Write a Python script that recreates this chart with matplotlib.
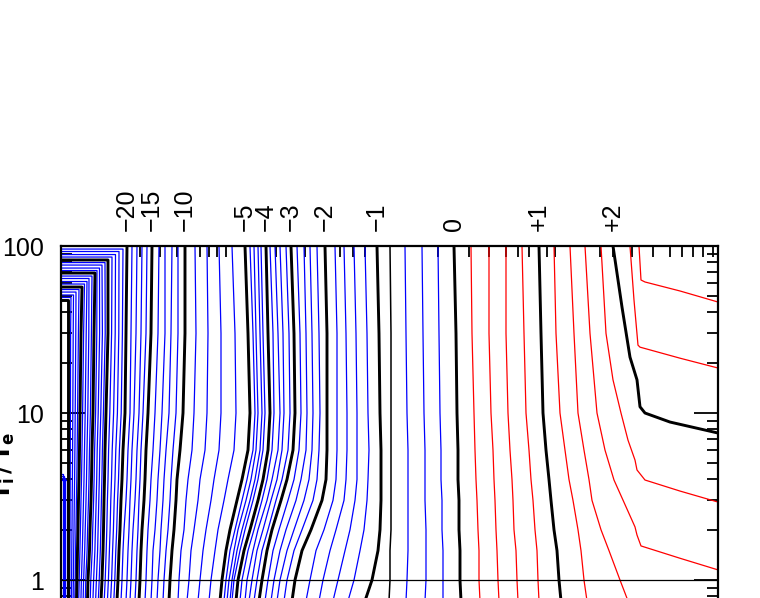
import matplotlib
matplotlib.use("Agg")
import matplotlib.pyplot as plt
from matplotlib.ticker import FixedLocator, FixedFormatter, NullFormatter, LogLocator

# ---------------- data (x in arbitrary units, y = T_i/T_e) ----------------
# rows of T_i/T_e at which the x-position of each contour was read
Y_ROWS = [100, 30, 10, 6, 4, 3, 2, 1.5, 1, 0.75]

# contours running from top to bottom, levels -20 ... -6 (step 1)
LEV_A = [-20, -19, -18, -17, -16, -15, -14, -13, -12, -11, -10, -9, -8, -7, -6]
X_A = [
    [6.6, 6.5, 6.4, 6.2, 6.1, 6.0, 5.9, 5.8, 5.7, 5.6],
    [7.1, 7.0, 6.9, 6.7, 6.6, 6.5, 6.3, 6.2, 6.1, 6.0],
    [7.6, 7.5, 7.3, 7.1, 7.0, 6.9, 6.8, 6.7, 6.6, 6.5],
    [8.1, 8.0, 7.8, 7.6, 7.5, 7.4, 7.2, 7.1, 7.0, 6.9],
    [8.6, 8.5, 8.2, 8.0, 7.9, 7.8, 7.7, 7.6, 7.5, 7.4],
    [9.1, 9.0, 8.7, 8.5, 8.4, 8.3, 8.1, 8.0, 7.9, 7.8],
    [9.8, 9.7, 9.4, 9.2, 9.0, 8.9, 8.7, 8.6, 8.5, 8.4],
    [10.4, 10.4, 10.1, 9.9, 9.7, 9.6, 9.4, 9.2, 9.1, 9.0],
    [11.1, 11.0, 10.8, 10.5, 10.3, 10.2, 10.0, 9.9, 9.7, 9.6],
    [11.7, 11.7, 11.5, 11.2, 11.0, 10.9, 10.7, 10.5, 10.3, 10.2],
    [12.4, 12.4, 12.2, 11.9, 11.6, 11.5, 11.3, 11.1, 10.9, 10.8],
    [13.4, 13.5, 13.3, 13.1, 12.7, 12.5, 12.3, 12.0, 11.8, 11.7],
    [14.6, 14.7, 14.6, 14.4, 13.9, 13.7, 13.3, 13.0, 12.8, 12.6],
    [15.8, 16.0, 16.0, 15.8, 15.3, 15.0, 14.5, 14.2, 13.9, 13.7],
    [17.1, 17.4, 17.5, 17.3, 16.7, 16.3, 15.7, 15.4, 15.0, 14.8],
]

# levels -5 ... -1.2 (step 0.2)
LEV_B = [-5.0, -4.8, -4.6, -4.4, -4.2, -4.0, -3.8, -3.6, -3.4, -3.2,
         -3.0, -2.8, -2.6, -2.4, -2.2, -2.0, -1.8, -1.6, -1.4, -1.2]
X_B = [
    [18.4, 18.7, 18.9, 18.7, 18.1, 17.6, 16.9, 16.5, 16.1, 15.9],
    [18.9, 19.2, 19.4, 19.2, 18.6, 18.1, 17.4, 16.9, 16.5, 16.3],
    [19.3, 19.5, 19.7, 19.5, 19.0, 18.5, 17.7, 17.3, 16.8, 16.6],
    [19.7, 19.9, 20.1, 19.9, 19.4, 18.9, 18.1, 17.6, 17.1, 16.9],
    [20.0, 20.2, 20.4, 20.2, 19.7, 19.2, 18.4, 17.9, 17.3, 17.1],
    [20.5, 20.7, 20.9, 20.7, 20.2, 19.7, 18.9, 18.3, 17.7, 17.5],
    [20.9, 21.2, 21.3, 21.1, 20.6, 20.1, 19.3, 18.7, 18.1, 17.9],
    [21.4, 21.7, 21.9, 21.7, 21.1, 20.6, 19.7, 19.2, 18.6, 18.4],
    [21.9, 22.2, 22.3, 22.1, 21.6, 21.0, 20.2, 19.6, 19.1, 18.8],
    [22.5, 22.8, 22.9, 22.7, 22.1, 21.5, 20.7, 20.1, 19.6, 19.3],
    [23.0, 23.3, 23.4, 23.2, 22.6, 22.0, 21.1, 20.6, 20.1, 19.8],
    [23.6, 23.9, 24.0, 23.8, 23.3, 22.7, 21.8, 21.2, 20.7, 20.4],
    [24.3, 24.5, 24.6, 24.5, 24.0, 23.5, 22.5, 21.9, 21.3, 21.0],
    [24.9, 25.1, 25.2, 25.1, 24.8, 24.3, 23.3, 22.6, 21.9, 21.6],
    [25.6, 25.8, 25.9, 25.8, 25.6, 25.2, 24.1, 23.3, 22.6, 22.3],
    [26.4, 26.6, 26.6, 26.6, 26.5, 26.1, 25.0, 24.1, 23.4, 23.1],
    [27.4, 27.6, 27.6, 27.6, 27.5, 27.2, 26.3, 25.5, 24.9, 24.5],
    [28.3, 28.5, 28.6, 28.6, 28.5, 28.3, 27.5, 26.9, 26.2, 25.8],
    [29.3, 29.5, 29.6, 29.6, 29.6, 29.4, 28.9, 28.4, 27.7, 27.2],
    [30.4, 30.6, 30.7, 30.8, 30.7, 30.6, 30.3, 29.9, 29.3, 28.7],
]

# levels -1 ... +1.4 (step 0.2)
LEV_C = [-1.0, -0.8, -0.6, -0.4, -0.2, 0.0, 0.2, 0.4, 0.6, 0.8, 1.0, 1.2, 1.4]
X_C = [
    [31.6, 31.8, 31.9, 32.0, 32.0, 32.0, 31.9, 31.7, 31.1, 30.4],
    [32.9, 33.0, 33.0, 33.0, 33.0, 33.0, 33.0, 32.9, 32.9, 32.8],
    [34.4, 34.5, 34.6, 34.7, 34.7, 34.7, 34.7, 34.7, 34.6, 34.5],
    [36.1, 36.2, 36.3, 36.4, 36.4, 36.4, 36.5, 36.5, 36.5, 36.4],
    [37.7, 37.8, 37.9, 38.0, 38.0, 38.1, 38.1, 38.2, 38.2, 38.2],
    [39.3, 39.5, 39.6, 39.7, 39.7, 39.8, 39.8, 39.9, 39.9, 40.0],
    [41.0, 41.1, 41.3, 41.4, 41.5, 41.6, 41.7, 41.8, 41.8, 41.9],
    [42.8, 42.8, 43.0, 43.2, 43.3, 43.4, 43.5, 43.6, 43.7, 43.8],
    [44.5, 44.5, 44.7, 44.9, 45.1, 45.2, 45.3, 45.5, 45.6, 45.7],
    [46.1, 46.3, 46.5, 46.8, 47.0, 47.2, 47.4, 47.6, 47.7, 47.8],
    [47.8, 48.0, 48.2, 48.5, 48.8, 49.0, 49.3, 49.6, 49.8, 50.0],
    [49.3, 49.5, 49.9, 50.4, 50.8, 51.2, 51.7, 52.0, 52.3, 52.6],
    [50.9, 51.3, 51.7, 52.3, 52.8, 53.1, 54.0, 54.8, 55.9, 56.7],
]

# L-shaped contours in the upper left: horizontal at T = L_HY from the left
# edge to the corner L_XC, then downwards through rows Y_ROWS[1:]
LEV_L = [-21, -22, -23, -24, -25, -26, -27, -28, -29, -30,
         -31, -32, -33, -34, -35, -36, -37, -38, -39, -40]
L_HY = [95.9, 92.7, 88.9, 85.9, 82.5, 79.6, 76.9, 73.8, 71.3, 68.9,
        66.1, 63.9, 61.3, 59.2, 56.8, 54.9, 53.0, 50.9, 49.2, 47.5]
L_XC = [6.2, 5.8, 5.45, 5.1, 4.7, 4.4, 4.1, 3.85, 3.6, 3.4,
        3.1, 2.8, 2.6, 2.35, 2.1, 1.8, 1.5, 1.25, 1.0, 0.7]
L_X = [
    [6.14, 6.02, 5.84, 5.75, 5.66, 5.57, 5.48, 5.38, 5.28],
    [5.78, 5.64, 5.48, 5.40, 5.32, 5.24, 5.16, 5.06, 4.96],
    [5.42, 5.26, 5.12, 5.05, 4.98, 4.91, 4.84, 4.74, 4.64],
    [5.06, 4.88, 4.76, 4.70, 4.64, 4.58, 4.52, 4.42, 4.32],
    [4.70, 4.50, 4.40, 4.35, 4.30, 4.25, 4.20, 4.10, 4.00],
    [4.42, 4.24, 4.14, 4.09, 4.04, 3.98, 3.93, 3.82, 3.73],
    [4.14, 3.98, 3.88, 3.83, 3.78, 3.71, 3.66, 3.54, 3.46],
    [3.86, 3.72, 3.62, 3.57, 3.52, 3.44, 3.39, 3.26, 3.19],
    [3.58, 3.46, 3.36, 3.31, 3.26, 3.17, 3.12, 2.98, 2.92],
    [3.30, 3.20, 3.10, 3.05, 3.00, 2.90, 2.85, 2.70, 2.65],
    [3.04, 2.94, 2.85, 2.80, 2.75, 2.66, 2.61, 2.48, 2.43],
    [2.78, 2.68, 2.60, 2.55, 2.50, 2.42, 2.37, 2.26, 2.21],
    [2.52, 2.42, 2.35, 2.30, 2.25, 2.18, 2.13, 2.04, 1.99],
    [2.26, 2.16, 2.10, 2.05, 2.00, 1.94, 1.89, 1.82, 1.77],
    [2.00, 1.90, 1.85, 1.80, 1.75, 1.70, 1.65, 1.60, 1.55],
    [1.74, 1.66, 1.62, 1.58, 1.54, 1.50, 1.46, 1.42, 1.38],
    [1.48, 1.42, 1.39, 1.36, 1.33, 1.30, 1.27, 1.24, 1.21],
    [1.22, 1.18, 1.16, 1.14, 1.12, 1.10, 1.08, 1.06, 1.04],
    [0.96, 0.94, 0.93, 0.92, 0.91, 0.90, 0.89, 0.88, 0.87],
    [0.70, 0.70, 0.70, 0.70, 0.70, 0.70, 0.70, 0.70, 0.70],
]

# lower-left contours entering from the left edge
LEV_LL = [-41, -42, -43, -44]
LL_HY = [4.31, 4.20, 4.08, 3.97]
LL_X = [0.2, 0.32, 0.44, 0.56]

# right-hand contours that bend over to the right edge
R_P16_X = [52.4, 52.9, 53.6, 54.4, 55.3, 56.2, 57.4, 57.6, 58.0, 61.9, 65.7]
R_P16_Y = [100, 30, 10, 6, 3.97, 3.01, 2.08, 1.86, 1.60, 1.35, 1.15]
R_P18_X = [54.0, 54.5, 55.2, 56.0, 56.7, 57.4, 57.6, 58.4, 61.9, 65.7]
R_P18_Y = [100, 30, 15.8, 10, 6.88, 5.23, 4.56, 3.97, 3.41, 2.93]
R_P20_X = [55.2, 56.1, 56.9, 57.6, 57.9, 58.4, 60.9, 65.7]
R_P20_Y = [100, 43.1, 21.6, 15.8, 10.9, 10.0, 8.83, 7.59]
R_P22_X = [56.9, 57.3, 57.7, 57.9, 61.9, 65.7]
R_P22_Y = [100, 47.5, 25.5, 24.8, 21.3, 18.6]
R_P24_X = [57.8, 58.0, 58.4, 61.9, 65.7]
R_P24_Y = [100, 62.6, 60.9, 53.8, 46.2]

# top axis: labels at the labelled contours, short ticks elsewhere
TOP_LABEL_POS = [6.6, 9.1, 12.4, 18.4, 20.5, 23.0, 26.4, 31.6, 39.3, 47.8, 55.2]
TOP_LABELS = ["\u221220", "\u221215", "\u221210", "\u22125", "\u22124", "\u22123",
              "\u22122", "\u22121", "0", "+1", "+2"]
TOP_MINOR = [7.9, 9.9, 11.6, 13.9, 14.8, 15.6, 16.5, 21.5, 24.4, 27.9, 29.2, 30.4,
             37.7, 40.8, 42.8, 44.5, 45.7, 46.8, 48.6, 49.4, 53.9, 57.1, 59.2,
             60.9, 62.1, 63.2, 64.2, 65.2]

BLUE = "#0000ff"
RED = "#ff0000"
BLACK_LW = 2.1
THIN_LW = 0.9


def color_for(lev, major):
    if major:
        return "black", BLACK_LW
    return (BLUE if lev < 0 else RED), THIN_LW


fig = plt.figure(figsize=(7.6, 5.98), dpi=100)
ax = fig.add_axes([0.08026, -0.0132, 0.86447, 0.6018])
ax.set_yscale("log")
ax.set_xlim(0, 65.7)
ax.set_ylim(0.7, 100)

segments = []
for lev, xs in zip(LEV_A, X_A):
    segments.append((lev, lev % 5 == 0, xs, Y_ROWS))
for lev, xs in zip(LEV_B + LEV_C, X_B + X_C):
    segments.append((lev, abs(lev - round(lev)) < 1e-6, xs, Y_ROWS))
for lev, hy, xc, xs in zip(LEV_L, L_HY, L_XC, L_X):
    segments.append((lev, lev % 5 == 0, [0, xc] + xs, [hy, hy] + Y_ROWS[1:]))
for lev, hy, xv in zip(LEV_LL, LL_HY, LL_X):
    segments.append((lev, False, [0, xv, xv], [hy, hy, Y_ROWS[-1]]))
segments.append((1.6, False, R_P16_X, R_P16_Y))
segments.append((1.8, False, R_P18_X, R_P18_Y))
segments.append((2.0, True, R_P20_X, R_P20_Y))
segments.append((2.2, False, R_P22_X, R_P22_Y))
segments.append((2.4, False, R_P24_X, R_P24_Y))

# thin lines first, heavy labelled contours on top
for lev, major, xs, ys in sorted(segments, key=lambda s: s[1]):
    col, lw = color_for(lev, major)
    if abs(lev + 0.8) < 1e-6:
        col, lw = "black", 1.1
    ax.plot(xs, ys, color=col, lw=lw, solid_joinstyle="round", zorder=3 if major else 2)

ax.axhline(1, color="black", lw=0.9, zorder=4)

# axes / ticks
ax.xaxis.set_major_locator(FixedLocator(TOP_LABEL_POS))
ax.xaxis.set_major_formatter(FixedFormatter(TOP_LABELS))
ax.xaxis.set_minor_locator(FixedLocator(TOP_MINOR))
ax.tick_params(axis="x", which="both", top=True, bottom=False, labeltop=True,
               labelbottom=False, direction="in", length=8, width=1.3, pad=11,
               labelsize=18, labelrotation=90)
ax.tick_params(axis="y", which="major", left=True, right=True, direction="in",
               length=17, width=1.3, pad=12.5, labelsize=18)
ax.tick_params(axis="y", which="minor", left=True, right=True, direction="in",
               length=8, width=1.3)
ax.yaxis.set_major_locator(FixedLocator([1, 10, 100]))
ax.yaxis.set_major_formatter(FixedFormatter(["1", "10", "100"]))
ax.yaxis.set_minor_locator(LogLocator(base=10, subs=range(2, 10)))
ax.yaxis.set_minor_formatter(NullFormatter())
for lab in ax.get_yticklabels() + ax.get_xticklabels():
    lab.set_family("Liberation Sans")
for sp in ax.spines.values():
    sp.set_linewidth(1.6)
    sp.set_zorder(5)

fig.text(-0.012, 0.22, r"$\mathbf{T_i\,/\,T_e}$", rotation=90, fontsize=17,
         ha="left", va="center")

fig.savefig("out.png", dpi=100)
